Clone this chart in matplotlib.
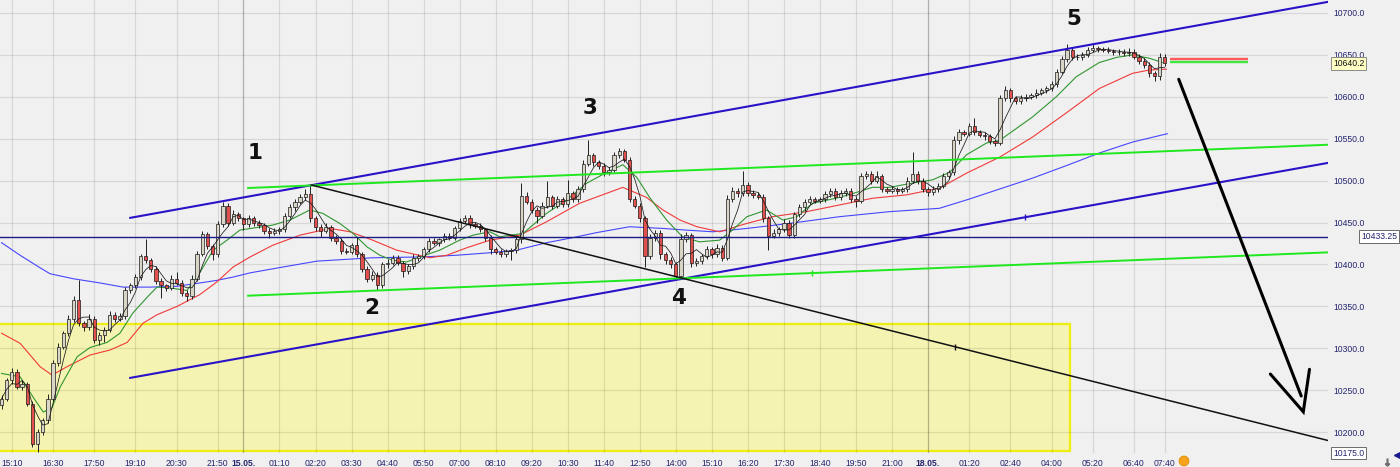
import numpy as np
import pandas as pd
import matplotlib
matplotlib.use("Agg")
import matplotlib.pyplot as plt
import matplotlib.transforms as mtransforms
from matplotlib.patches import Rectangle, Ellipse
from matplotlib.lines import Line2D

plt.rcParams['font.family'] = ['Liberation Sans', 'DejaVu Sans']

# ---- 10-minute bars (close prices, wick lengths in points) ----
first_open = 10232
closes = [
    10240, 10262, 10272, 10254, 10258, 10234, 10186, 10200, 10214, 10240,
    10283, 10302, 10318, 10335, 10358, 10330, 10326, 10335, 10310, 10316,
    10322, 10340, 10335, 10338, 10370, 10375, 10385, 10410, 10405, 10395,
    10380, 10375, 10372, 10383, 10378, 10366, 10362, 10383, 10413, 10436,
    10422, 10412, 10448, 10470, 10450, 10460, 10455, 10448, 10455, 10450,
    10447, 10440, 10438, 10440, 10442, 10458, 10468, 10475, 10480, 10484,
    10455, 10445, 10440, 10445, 10432, 10428, 10416, 10415, 10423, 10412,
    10395, 10383, 10388, 10375, 10400, 10402, 10408, 10402, 10392, 10398,
    10408, 10410, 10418, 10428, 10426, 10430, 10434, 10432, 10443, 10452,
    10455, 10448, 10446, 10442, 10432, 10418, 10415, 10413, 10416, 10417,
    10430, 10482, 10475, 10465, 10458, 10470, 10480, 10470, 10478, 10472,
    10485, 10478, 10490, 10520, 10530, 10522, 10517, 10510, 10513, 10530,
    10535, 10525, 10478, 10470, 10455, 10410, 10432, 10438, 10412, 10405,
    10400, 10386, 10430, 10435, 10402, 10404, 10410, 10418, 10412, 10420,
    10408, 10478, 10488, 10485, 10495, 10485, 10483, 10481, 10455, 10434,
    10438, 10442, 10450, 10435, 10460, 10468, 10475, 10478, 10476, 10478,
    10484, 10488, 10480, 10485, 10488, 10478, 10476, 10505, 10508, 10500,
    10505, 10490, 10488, 10490, 10488, 10490, 10500, 10508, 10500, 10490,
    10486, 10490, 10494, 10505, 10510, 10548, 10558, 10556, 10565, 10558,
    10555, 10553, 10547, 10545, 10598, 10608, 10598, 10595, 10598, 10600,
    10602, 10605, 10608, 10610, 10615, 10630, 10645, 10656, 10648, 10647,
    10650, 10656, 10658, 10657, 10656, 10655, 10653, 10654, 10652, 10654,
    10648, 10643, 10638, 10628, 10625, 10648, 10640.2,
]
wick_up = [
    4, 3, 5, 3, 4, 2, 3, 4, 3, 5,
    3, 4, 3, 5, 4, 24, 3, 6, 3, 4,
    3, 5, 3, 4, 3, 3, 4, 3, 20, 3,
    3, 4, 2, 5, 8, 3, 3, 4, 3, 4,
    3, 2, 4, 4, 3, 5, 3, 2, 4, 3,
    3, 2, 3, 4, 3, 3, 4, 3, 4, 6,
    11, 3, 3, 4, 2, 3, 3, 4, 3, 10,
    3, 3, 4, 3, 3, 4, 3, 3, 2, 3,
    4, 3, 3, 4, 3, 2, 3, 4, 3, 3,
    4, 4, 3, 3, 2, 3, 3, 4, 3, 3,
    3, 15, 4, 3, 3, 4, 20, 3, 4, 3,
    16, 3, 4, 5, 19, 3, 3, 4, 3, 4,
    4, 3, 3, 4, 3, 3, 4, 3, 3, 3,
    4, 3, 6, 4, 3, 4, 3, 4, 3, 4,
    3, 5, 4, 3, 17, 3, 4, 3, 3, 3,
    4, 3, 4, 3, 3, 4, 3, 4, 3, 3,
    4, 3, 3, 4, 3, 3, 4, 4, 3, 3,
    7, 3, 3, 4, 3, 3, 4, 26, 3, 3,
    3, 4, 3, 4, 3, 5, 4, 3, 4, 10,
    3, 3, 3, 3, 4, 5, 3, 3, 4, 3,
    3, 4, 3, 3, 4, 3, 4, 7, 3, 3,
    3, 4, 6, 3, 3, 3, 2, 3, 3, 4,
    3, 3, 3, 3, 3, 4, 3,
]
wick_dn = [
    5, 3, 4, 3, 4, 3, 4, 10, 4, 3,
    3, 4, 3, 3, 4, 3, 5, 4, 4, 6,
    8, 3, 4, 3, 3, 4, 3, 3, 3, 4,
    3, 15, 4, 3, 3, 4, 5, 3, 3, 3,
    3, 7, 3, 3, 4, 3, 3, 7, 3, 4,
    3, 4, 6, 3, 4, 3, 3, 4, 3, 3,
    4, 5, 7, 3, 4, 3, 4, 3, 3, 3,
    4, 4, 3, 6, 3, 4, 3, 3, 7, 3,
    3, 4, 3, 3, 3, 4, 3, 3, 3, 3,
    3, 4, 3, 3, 4, 5, 3, 4, 4, 11,
    3, 4, 3, 4, 9, 3, 3, 4, 3, 3,
    3, 4, 3, 3, 3, 4, 3, 4, 3, 3,
    3, 3, 4, 3, 4, 13, 3, 4, 5, 4,
    4, 2, 3, 3, 5, 4, 3, 3, 4, 3,
    4, 3, 3, 4, 3, 3, 4, 3, 4, 17,
    3, 4, 3, 4, 3, 3, 4, 3, 3, 3,
    3, 4, 3, 3, 3, 4, 7, 3, 3, 4,
    3, 4, 3, 3, 4, 3, 3, 3, 4, 3,
    4, 3, 3, 3, 3, 3, 4, 3, 3, 3,
    3, 4, 3, 4, 3, 3, 4, 3, 3, 3,
    3, 3, 3, 4, 3, 3, 3, 3, 4, 3,
    3, 3, 3, 3, 3, 3, 3, 3, 3, 3,
    3, 4, 4, 4, 6, 5, 3,
]

# ---- time axis ----
tick_labels = ["15:10", "16:30", "17:50", "19:10", "20:30", "21:50", "15.05.",
               "01:10", "02:20", "03:30", "04:40", "05:50", "07:00", "08:10",
               "09:20", "10:30", "11:40", "12:50", "14:00", "15:10", "16:20",
               "17:30", "18:40", "19:50", "21:00", "18.05.", "01:20", "02:40",
               "04:00", "05:20", "06:40", "07:40"]
tick_bars = [2, 10, 18, 26, 34, 42, 47, 54, 61, 68, 75, 82, 89, 96, 103, 110,
             117, 124, 131, 138, 145, 152, 159, 166, 173, 180, 188, 196, 204,
             212, 220, 226]

# ---- moving averages (bar position, value) ----
ma_fast_bar = [0, 3.6, 6.1, 8.1, 9.8, 11.4, 14.7, 17.2, 20.5, 23, 25.5, 28.3,
               30.2, 32.7, 36, 38.5, 41.1, 43.8, 46.3, 52.7, 56, 59.9, 62.4,
               65.7, 68.3, 71, 73.5, 76, 78.7, 81.3, 85.1, 89, 91.6, 94.9,
               96.8, 101.3, 105.9, 109.8, 113.7, 117.6, 120.7, 123.4, 125.9,
               129.2, 132.3, 135.6, 139.5, 142, 144.8, 148.6, 151.8, 154.5,
               157.6, 162.8, 166.1, 169.2, 172.5, 177.8, 180.9, 184.2, 187.5,
               191.4, 193.9, 200.3, 204.9, 208.8, 213.3, 216.6, 219.7, 223,
               225.5]
ma_fast_val = [10270, 10266, 10242, 10224, 10229, 10254, 10290, 10301, 10307,
               10318, 10342, 10361, 10373, 10372, 10369, 10390, 10417, 10429,
               10441, 10447, 10453, 10465, 10461, 10449, 10437, 10421, 10411,
               10405, 10403, 10409, 10417, 10429, 10435, 10439, 10433, 10437,
               10461, 10477, 10497, 10510, 10519, 10504, 10480, 10453, 10433,
               10427, 10429, 10441, 10457, 10465, 10453, 10457, 10473, 10480,
               10486, 10492, 10492, 10498, 10501, 10510, 10531, 10545, 10548,
               10576, 10600, 10624, 10641, 10647, 10650, 10646, 10641]

ma_mid_bar = [0, 3.6, 7.5, 9.8, 12.7, 17.2, 21.1, 24.4, 27.5, 30.2, 34.1,
              38.5, 41.8, 45, 48.3, 52.7, 58, 63.8, 67.7, 72.1, 76.8, 83.2,
              86.5, 90.4, 94.9, 100.7, 105.9, 112.3, 120.7, 125.3, 128.5,
              131.8, 135.1, 139.5, 144.8, 149.8, 156.4, 162.8, 169.2, 175.8,
              182.2, 187.5, 193.9, 200.3, 206.9, 213.3, 219.7, 223, 226.3]
ma_mid_val = [10318, 10306, 10278, 10268, 10278, 10292, 10298, 10307, 10330,
              10340, 10350, 10364, 10379, 10397, 10409, 10423, 10435, 10443,
              10439, 10429, 10417, 10408, 10411, 10420, 10429, 10435, 10451,
              10473, 10492, 10480, 10465, 10453, 10445, 10439, 10449, 10457,
              10463, 10471, 10479, 10483, 10491, 10509, 10528, 10552, 10581,
              10610, 10628, 10632, 10633]

ma_slow_bar = [0, 3.6, 7.5, 9.4, 13.9, 19.1, 23.6, 28.8, 34.1, 38.6, 41.8, 45,
               48.3, 54.7, 61.3, 72.1, 81.9, 88.4, 94.9, 100, 105.9, 111,
               115.6, 122, 128.5, 133, 138.2, 144.8, 153.1, 162.8, 172.5,
               182.2, 188, 193.9, 200.3, 206.9, 213.3, 219.7, 226.5]
ma_slow_val = [10426, 10411, 10396, 10389, 10383, 10378, 10373, 10373, 10374,
               10378, 10381, 10385, 10390, 10397, 10404, 10408, 10409, 10411,
               10414, 10417, 10426, 10432, 10438, 10445, 10443, 10441, 10439,
               10443, 10449, 10457, 10463, 10467, 10478, 10490, 10503, 10518,
               10533, 10546, 10556]

# ---- drawn objects (bar position, price) ----
support_level = 10433.25
channel_top = ([24.8, 257.9], [10455.4, 10713.5])
channel_bot = ([24.8, 257.9], [10264.5, 10521.4])
green_top = ([47.7, 257.9], [10491.2, 10542.9])
green_bot = ([47.7, 257.9], [10362.7, 10414.5])
black_down = ([60.2, 257.9], [10494.8, 10189.7])
arrow_shaft = ([228.7, 252.5], [10620.9, 10243.1])
arrow_head = ([246.5, 252.9, 254.1], [10269.3, 10224.3, 10274.9])
zone = (-1.0, 207.6, 10177.0, 10328.6)      # x0, x1, y0, y1
handle_pos = {"channel_bot": 198.8, "green_bot": 157.4, "black_down": 185.2}
quote_x = [227.0, 242.1]
ask_price, bid_price = 10645.0, 10641.2
last_price = 10640.2
wave_labels = ["1", "2", "3", "4", "5"]
wave_bar = [49.2, 72.0, 114.3, 131.5, 208.3]
wave_price = [10532.6, 10348.0, 10586.7, 10359.6, 10692.8]

price_ticks = np.arange(10200, 10701, 50)
y_min, y_max = 10175.0, 10715.5

# ---- derived bar data ----
closes = np.array(closes, dtype=float)
opens = np.r_[first_open, closes[:-1]]
highs = np.maximum(opens, closes) + np.array(wick_up)
lows = np.minimum(opens, closes) - np.array(wick_dn)
bars = np.arange(len(closes))
ma_very_fast = pd.Series(closes).rolling(4, min_periods=1).mean().values

BG = '#f0f0f0'
GRID = (0, 0, 0, 0.1)
AXIS_TXT = '#24246e'
CHANNEL = '#2a12c8'
TREND_GREEN = '#1ee81e'

fig = plt.figure(figsize=(14, 4.67), dpi=100, facecolor=BG)
ax = fig.add_axes([0, 14 / 467, 1328 / 1400, 453 / 467])
ax.set_facecolor(BG)
ax.set_xlim(-0.3, 257.7)
ax.set_ylim(y_min + 0.1, y_max)
for s in ax.spines.values():
    s.set_visible(False)

# yellow zone
zx0, zx1, zy0, zy1 = zone
ax.add_patch(Rectangle((zx0, zy0), zx1 - zx0, zy1 - zy0, facecolor='#f5f3b2',
                       edgecolor='#eeee10', lw=1.6, zorder=0.5))

# grid
for p in price_ticks:
    ax.axhline(p, color=GRID, lw=0.9, zorder=1)
for b, lab in zip(tick_bars, tick_labels):
    col = (0, 0, 0, 0.27) if lab.endswith('.') else GRID
    ax.axvline(b, color=col, lw=0.9, zorder=1)

# moving averages
ax.plot(ma_slow_bar, ma_slow_val, color='#4646ff', lw=0.8, zorder=2.5)
ax.plot(ma_mid_bar, ma_mid_val, color='#f03a3a', lw=0.8, zorder=2.5)
ax.plot(ma_fast_bar, ma_fast_val, color='#2f962f', lw=0.8, zorder=2.5)

# candles
up = closes >= opens
ax.vlines(bars, lows, highs, color='#202020', lw=0.7, zorder=3)
body_lo = np.minimum(opens, closes)
body_h = np.maximum(np.abs(closes - opens), 1.0)
ax.bar(bars[up], body_h[up], bottom=body_lo[up], width=0.64,
       color='#d9d5c6', edgecolor='#1a1a1a', lw=0.5, zorder=3.2)
ax.bar(bars[~up], body_h[~up], bottom=body_lo[~up], width=0.64,
       color='#e2504e', edgecolor='#1a1a1a', lw=0.5, zorder=3.2)
ax.plot(bars, ma_very_fast, color='#1a1a1a', lw=0.55, zorder=3.4)

# support level
ax.axhline(support_level, color='#1c1c86', lw=1.0, zorder=3.6)

# trend lines
ax.plot(*channel_top, color=CHANNEL, lw=1.5, zorder=4, solid_capstyle='butt')
ax.plot(*channel_bot, color=CHANNEL, lw=1.5, zorder=4, solid_capstyle='butt')
ax.plot(*green_top, color=TREND_GREEN, lw=1.4, zorder=4, solid_capstyle='butt')
ax.plot(*green_bot, color=TREND_GREEN, lw=1.4, zorder=4, solid_capstyle='butt')
ax.plot(*black_down, color='#111111', lw=1.1, zorder=4)
for name, col in (("channel_bot", CHANNEL), ("green_bot", TREND_GREEN),
                  ("black_down", '#111111')):
    lx, ly = globals()[name]
    hx = handle_pos[name]
    ax.plot([hx], [np.interp(hx, lx, ly)], marker='|', ms=5, mew=1,
            color=col, zorder=4.1)

# arrow
ax.plot(*arrow_shaft, color='black', lw=2.2, zorder=4.2, solid_capstyle='round')
ax.plot(*arrow_head, color='black', lw=2.2, zorder=4.2, solid_capstyle='round',
        solid_joinstyle='miter')

# bid / ask quote lines
ax.plot(quote_x, [ask_price, ask_price], color='#ff5a5a', lw=1.7, zorder=4,
        solid_capstyle='butt')
ax.plot(quote_x, [bid_price, bid_price], color='#3ee83e', lw=1.7, zorder=4,
        solid_capstyle='butt')

# wave counts
for lab, bx, py in zip(wave_labels, wave_bar, wave_price):
    ax.text(bx, py, lab, fontsize=15.5, fontweight='bold', family='DejaVu Sans',
            ha='center', va='center', color='#111111', zorder=5)

# axes labels
ax.yaxis.tick_right()
ax.set_yticks(price_ticks)
ax.set_yticklabels([f"{p:.1f}" for p in price_ticks])
ax.tick_params(axis='y', length=0, pad=4, labelsize=6.2, labelcolor=AXIS_TXT)
ax.set_xticks(tick_bars)
ax.set_xticklabels(tick_labels)
ax.tick_params(axis='x', length=0, pad=4, labelsize=6.2, labelcolor=AXIS_TXT)
for t in ax.get_xticklabels():
    if t.get_text().endswith('.'):
        t.set_fontweight('bold')

trans = mtransforms.blended_transform_factory(ax.transAxes, ax.transData)
ax.text(1.0038, last_price, f"{last_price:.1f}", transform=trans, fontsize=6.2,
        va='center', ha='left', color='#111111', zorder=6, clip_on=False,
        bbox=dict(boxstyle='square,pad=0.22', fc='#ffffc4', ec='#8a8a8a', lw=0.7))
ax.text(1.0248, support_level, f"{support_level:.2f}", transform=trans,
        fontsize=6.2, va='center', ha='left', color=AXIS_TXT, zorder=6,
        clip_on=False,
        bbox=dict(boxstyle='square,pad=0.22', fc='white', ec='#6a6a6a', lw=0.7))
ax.text(1.0038, y_min, f"{y_min:.1f}", transform=trans, fontsize=6.2,
        va='center', ha='left', color=AXIS_TXT, zorder=6, clip_on=False,
        bbox=dict(boxstyle='square,pad=0.22', fc='white', ec='#6a6a6a', lw=0.7))

# small status icons in the corner
fig.add_artist(Ellipse((1184 / 1400, 6 / 467), 10 / 1400, 10 / 467,
                       transform=fig.transFigure, facecolor='#f5a21c',
                       edgecolor='#e08a00', lw=0.5))
fig.add_artist(Line2D([1397 / 1400], [12 / 467], marker='<', ms=5,
                      color='#1a1a90', transform=fig.transFigure))
fig.add_artist(Line2D([1387 / 1400], [5 / 467], marker='$\u2193$', ms=5,
                      color='#707070', transform=fig.transFigure))

fig.savefig('out.png', dpi=100, facecolor=BG)
